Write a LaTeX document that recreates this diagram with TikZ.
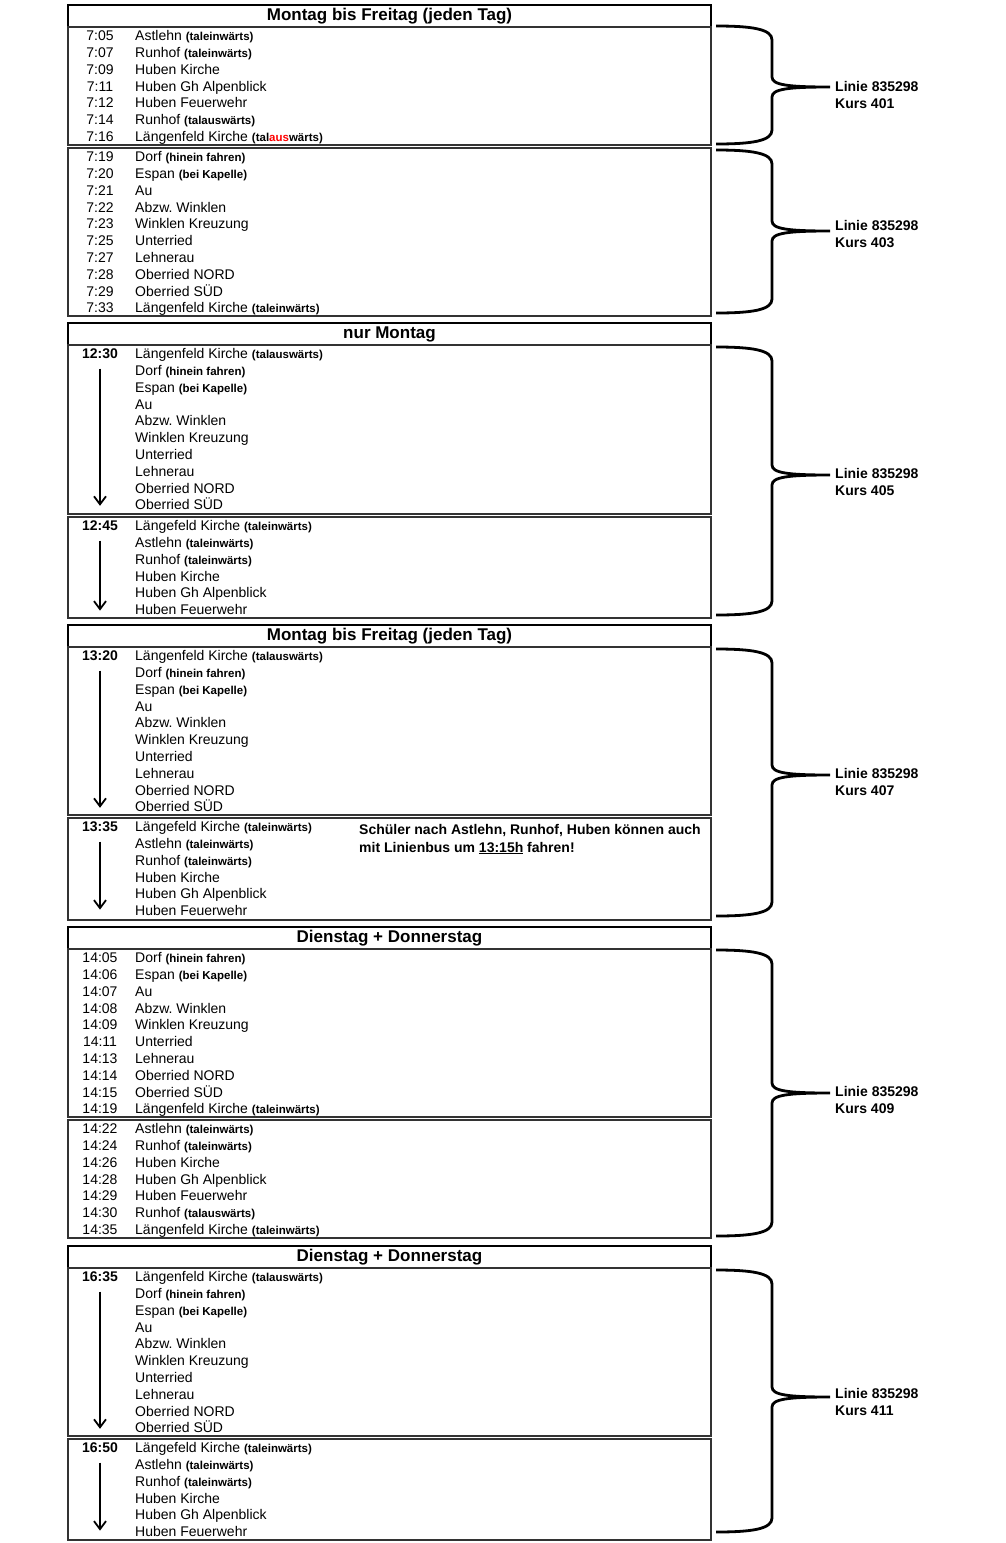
\documentclass[tikz,border=0pt]{standalone}
\usepackage{fontspec}
\setmainfont{Liberation Sans}
\usetikzlibrary{arrows.meta}
\frenchspacing
\newcommand\sm[1]{{\fontsize{11.5}{13}\selectfont\bfseries #1}}
\newcommand\stoplist[3]{%
  \foreach \tm/\st [count=\n from 0] in {#3} {
    \node[tm] (#1t\n) at (100,#2+8.6+16.8*\n+5) {\tm};
    \node[st] (#1s\n) at (135,#2+8.6+16.8*\n+5) {\st};
  }}
\newcommand\kbr[5]{%
  \draw[brc] (716,#1) .. controls (752,#1) and (772,#1+3) .. (772,#1+14)
    -- (772,#2-10) .. controls (772,#2-2) and (788,#2) .. (830,#2)
    .. controls (788,#2) and (772,#2+2) .. (772,#2+10)
    -- (772,#3-14) .. controls (772,#3-3) and (752,#3) .. (716,#3);
  \node[lab] (lin#4) at (835,#5+5) {Linie 835298};
  \node[lab] (kurs#4) at (835,#5+22) {Kurs #4};
}
\begin{document}
\begin{tikzpicture}[x=1pt,y=-1pt,
  tm/.style={anchor=base,inner sep=0pt,font=\fontsize{14}{16}\selectfont},
  st/.style={anchor=base west,inner sep=0pt,font=\fontsize{14}{16}\selectfont},
  hdr/.style={draw,line width=2.6pt,minimum width=643pt,minimum height=22pt,inner sep=0pt,
    font=\fontsize{17}{19}\selectfont\bfseries,text height=12.5pt,text depth=3.5pt},
  bx/.style={draw=black!80,line width=1.5pt,minimum width=643pt,anchor=north west,inner sep=0pt,outer sep=0pt},
  arr/.style={line width=1.7pt,-{Straight Barb[length=8pt,width=12pt,line width=1.8pt]}},
  brc/.style={line width=2.8pt},
  lab/.style={anchor=base west,inner sep=0pt,font=\fontsize{14}{16}\selectfont\bfseries},
  note/.style={anchor=base west,inner sep=0pt,font=\fontsize{14}{16}\selectfont\bfseries}
]
\fill[white] (0,0) rectangle (1006,1543);
\useasboundingbox (0,0) rectangle (1006,1543);

% ---------- Block 1 ----------
\node[hdr] (h1) at (389.5,16) {Montag bis Freitag (jeden Tag)};
\node[bx,minimum height=118pt] (b1) at (68,27) {};
\node[bx,minimum height=168pt] (b2) at (68,148) {};
\stoplist{b1}{27}{7:05/Astlehn \sm{(taleinwärts)},7:07/Runhof \sm{(taleinwärts)},7:09/Huben Kirche,7:11/Huben Gh Alpenblick,7:12/Huben Feuerwehr,7:14/Runhof \sm{(talauswärts)},7:16/Längenfeld Kirche \sm{(tal\textcolor{red}{aus}wärts)}}
\stoplist{b2}{148}{7:19/Dorf \sm{(hinein fahren)},7:20/Espan \sm{(bei Kapelle)},7:21/Au,7:22/Abzw. Winklen,7:23/Winklen Kreuzung,7:25/Unterried,7:27/Lehnerau,7:28/Oberried NORD,7:29/Oberried SÜD,7:33/Längenfeld Kirche \sm{(taleinwärts)}}
\kbr{26}{87}{144}{401}{86}
\kbr{150}{231}{313}{403}{225}

% ---------- Block 2 ----------
\node[hdr] (h2) at (389.5,334) {nur Montag};
\node[bx,minimum height=169pt] (b3) at (68,345) {};
\node[bx,minimum height=101pt] (b4) at (68,517) {};
\stoplist{b3}{345}{{\bfseries 12:30}/Längenfeld Kirche \sm{(talauswärts)},/Dorf \sm{(hinein fahren)},/Espan \sm{(bei Kapelle)},/Au,/Abzw. Winklen,/Winklen Kreuzung,/Unterried,/Lehnerau,/Oberried NORD,/Oberried SÜD}
\stoplist{b4}{517}{{\bfseries 12:45}/Längefeld Kirche \sm{(taleinwärts)},/Astlehn \sm{(taleinwärts)},/Runhof \sm{(taleinwärts)},/Huben Kirche,/Huben Gh Alpenblick,/Huben Feuerwehr}
\draw[arr] ([yshift=-10pt]b3t0.base) -- ([yshift=4pt]b3t0.base |- b3s9.base);
\draw[arr] ([yshift=-10pt]b4t0.base) -- ([yshift=4pt]b4t0.base |- b4s5.base);
\kbr{347}{475}{615}{405}{473}

% ---------- Block 3 ----------
\node[hdr] (h3) at (389.5,636) {Montag bis Freitag (jeden Tag)};
\node[bx,minimum height=168pt] (b5) at (68,647) {};
\node[bx,minimum height=102pt] (b6) at (68,818) {};
\stoplist{b5}{647}{{\bfseries 13:20}/Längenfeld Kirche \sm{(talauswärts)},/Dorf \sm{(hinein fahren)},/Espan \sm{(bei Kapelle)},/Au,/Abzw. Winklen,/Winklen Kreuzung,/Unterried,/Lehnerau,/Oberried NORD,/Oberried SÜD}
\stoplist{b6}{818}{{\bfseries 13:35}/Längefeld Kirche \sm{(taleinwärts)},/Astlehn \sm{(taleinwärts)},/Runhof \sm{(taleinwärts)},/Huben Kirche,/Huben Gh Alpenblick,/Huben Feuerwehr}
\draw[arr] ([yshift=-10pt]b5t0.base) -- ([yshift=4pt]b5t0.base |- b5s9.base);
\draw[arr] ([yshift=-10pt]b6t0.base) -- ([yshift=6pt]b6t0.base |- b6s5.base);
\node[note] (n1) at (359,834) {Schüler nach Astlehn, Runhof, Huben können auch};
\node[note] (n2) at (359,852) {mit Linienbus um \underline{13:15h} fahren!};
\kbr{649}{775}{916}{407}{773}

% ---------- Block 4 ----------
\node[hdr] (h4) at (389.5,938) {Dienstag + Donnerstag};
\node[bx,minimum height=168pt] (b7) at (68,949) {};
\node[bx,minimum height=118pt] (b8) at (68,1120) {};
\stoplist{b7}{949}{14:05/Dorf \sm{(hinein fahren)},14:06/Espan \sm{(bei Kapelle)},14:07/Au,14:08/Abzw. Winklen,14:09/Winklen Kreuzung,14:11/Unterried,14:13/Lehnerau,14:14/Oberried NORD,14:15/Oberried SÜD,14:19/Längenfeld Kirche \sm{(taleinwärts)}}
\stoplist{b8}{1120}{14:22/Astlehn \sm{(taleinwärts)},14:24/Runhof \sm{(taleinwärts)},14:26/Huben Kirche,14:28/Huben Gh Alpenblick,14:29/Huben Feuerwehr,14:30/Runhof \sm{(talauswärts)},14:35/Längenfeld Kirche \sm{(taleinwärts)}}
\kbr{950}{1093}{1236}{409}{1091}

% ---------- Block 5 ----------
\node[hdr] (h5) at (389.5,1257) {Dienstag + Donnerstag};
\node[bx,minimum height=168pt] (b9) at (68,1268) {};
\node[bx,minimum height=101pt] (b10) at (68,1439) {};
\stoplist{b9}{1268}{{\bfseries 16:35}/Längenfeld Kirche \sm{(talauswärts)},/Dorf \sm{(hinein fahren)},/Espan \sm{(bei Kapelle)},/Au,/Abzw. Winklen,/Winklen Kreuzung,/Unterried,/Lehnerau,/Oberried NORD,/Oberried SÜD}
\stoplist{b10}{1439}{{\bfseries 16:50}/Längefeld Kirche \sm{(taleinwärts)},/Astlehn \sm{(taleinwärts)},/Runhof \sm{(taleinwärts)},/Huben Kirche,/Huben Gh Alpenblick,/Huben Feuerwehr}
\draw[arr] ([yshift=-10pt]b9t0.base) -- ([yshift=4pt]b9t0.base |- b9s9.base);
\draw[arr] ([yshift=-10pt]b10t0.base) -- ([yshift=6pt]b10t0.base |- b10s5.base);
\kbr{1270}{1397}{1532}{411}{1393}
\end{tikzpicture}
\end{document}
